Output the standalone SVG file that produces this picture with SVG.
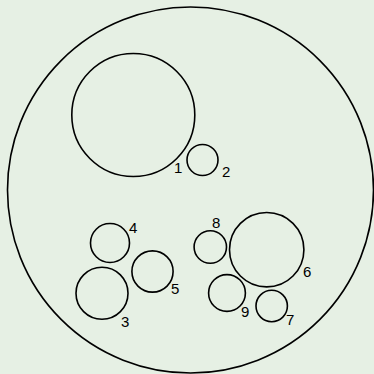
<svg xmlns="http://www.w3.org/2000/svg" width="374" height="374" viewBox="0 0 374 374">
<style>
circle{fill:none;stroke:#000;stroke-width:1.6}
text{font-family:"Liberation Sans",Arial,sans-serif;font-size:15px;fill:#000}
</style>
<rect width="374" height="374" fill="#e6f0e4"/>
<g id="outer"><circle cx="190.5" cy="190" r="183"/></g>
<g id="n1"><circle cx="133.3" cy="115" r="61.5"/><text x="174" y="173">1</text></g>
<g id="n2"><circle cx="202.5" cy="160" r="15.5"/><text x="222" y="177">2</text></g>
<g id="n3"><circle cx="102" cy="293.3" r="26"/><text x="121" y="327">3</text></g>
<g id="n4"><circle cx="110" cy="243" r="19.5"/><text x="129" y="233">4</text></g>
<g id="n5"><circle cx="152.5" cy="271.5" r="20.6"/><text x="171" y="294">5</text></g>
<g id="n6"><circle cx="266.7" cy="249.7" r="37.2"/><text x="303" y="277">6</text></g>
<g id="n7"><circle cx="271.7" cy="306" r="15.7"/><text x="286" y="325">7</text></g>
<g id="n8"><circle cx="210.3" cy="247" r="16.2"/><text x="212" y="228">8</text></g>
<g id="n9"><circle cx="227" cy="293" r="18.4"/><text x="241" y="317">9</text></g>
<g id="connectors"></g>
</svg>
